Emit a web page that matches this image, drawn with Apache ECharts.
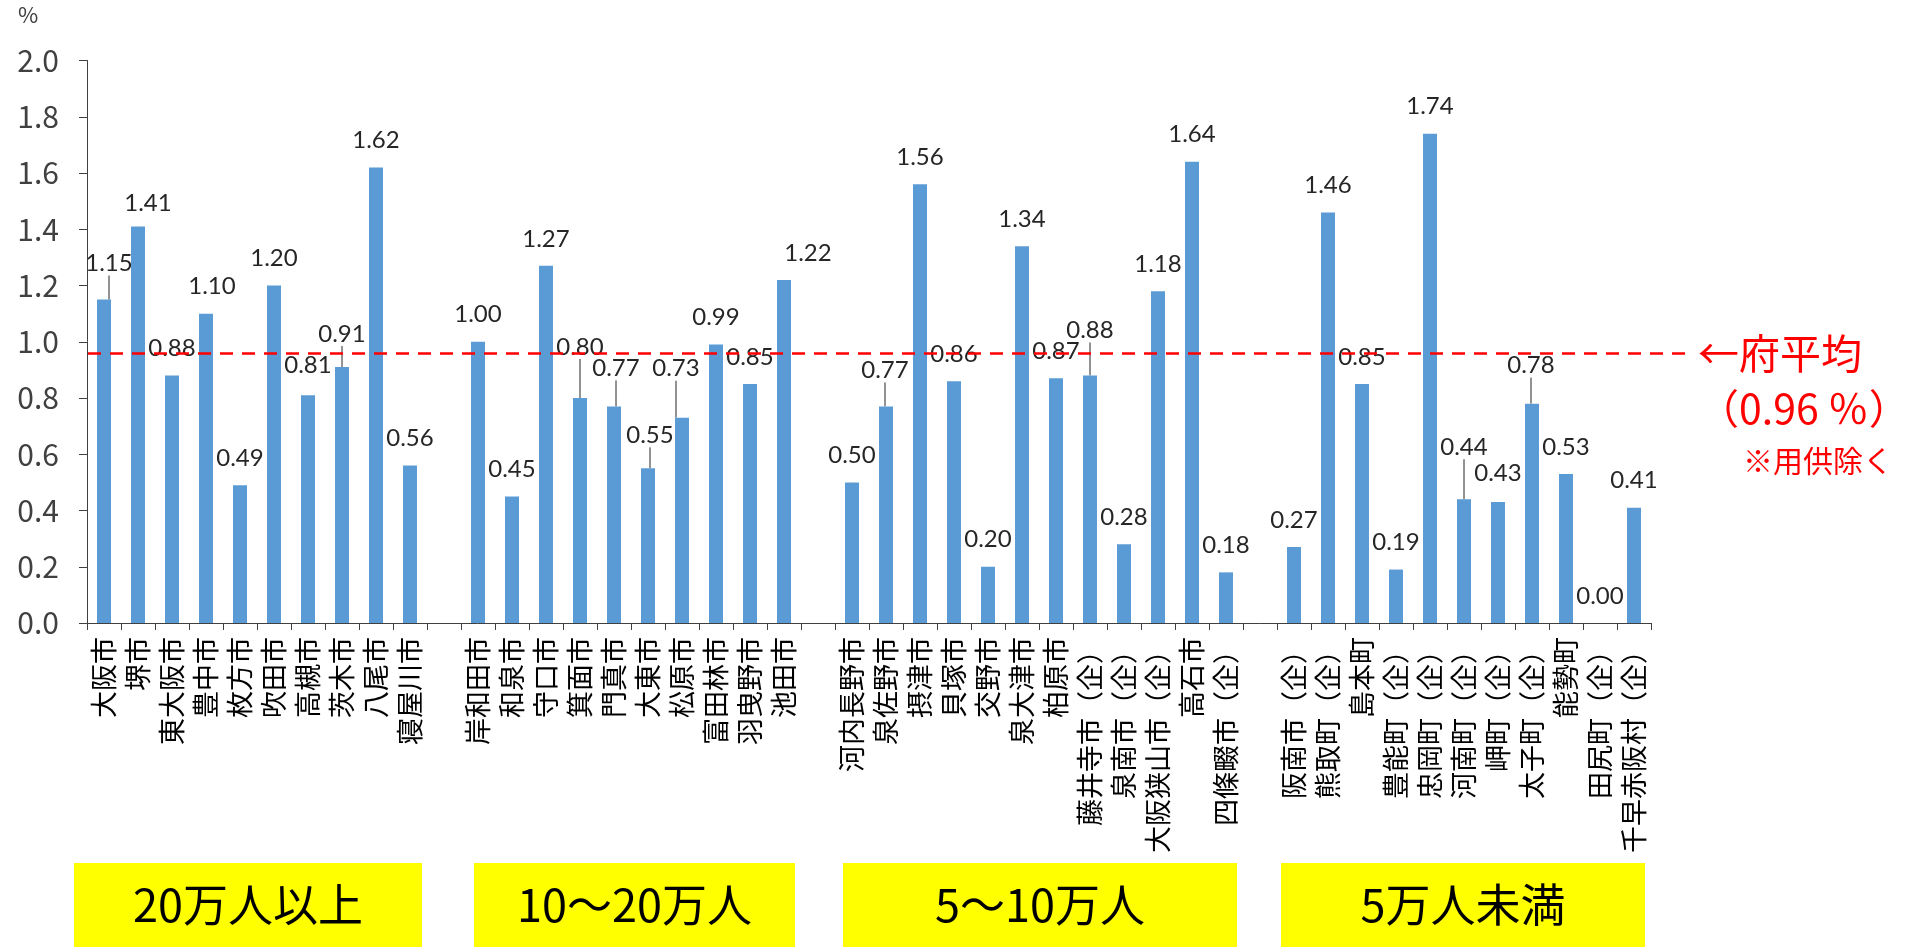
<!DOCTYPE html>
<html>
<head>
<meta charset="utf-8">
<script src="https://cdn.jsdelivr.net/npm/echarts@6/dist/echarts.min.js"></script>
<style>
  html, body { margin: 0; padding: 0; background: #fff; }
  #chart { width: 1911px; height: 952px; }
</style>
</head>
<body>
<div id="chart"></div>
<script>
// 人口規模別の団体ごとの比率（％）
const groupLabels = ['20万人以上', '10～20万人', '5～10万人', '5万人未満'];

const citiesOver200k = ['大阪市', '堺市', '東大阪市', '豊中市', '枚方市', '吹田市', '高槻市', '茨木市', '八尾市', '寝屋川市'];
const ratesOver200k = [1.15, 1.41, 0.88, 1.10, 0.49, 1.20, 0.81, 0.91, 1.62, 0.56];

const cities100kTo200k = ['岸和田市', '和泉市', '守口市', '箕面市', '門真市', '大東市', '松原市', '富田林市', '羽曳野市', '池田市'];
const rates100kTo200k = [1.00, 0.45, 1.27, 0.80, 0.77, 0.55, 0.73, 0.99, 0.85, 1.22];

const cities50kTo100k = ['河内長野市', '泉佐野市', '摂津市', '貝塚市', '交野市', '泉大津市', '柏原市', '藤井寺市（企）', '泉南市（企）', '大阪狭山市（企）', '高石市', '四條畷市（企）'];
const rates50kTo100k = [0.50, 0.77, 1.56, 0.86, 0.20, 1.34, 0.87, 0.88, 0.28, 1.18, 1.64, 0.18];

const citiesUnder50k = ['阪南市（企）', '熊取町（企）', '島本町', '豊能町（企）', '忠岡町（企）', '河南町（企）', '岬町（企）', '太子町（企）', '能勢町', '田尻町（企）', '千早赤阪村（企）'];
const ratesUnder50k = [0.27, 1.46, 0.85, 0.19, 1.74, 0.44, 0.43, 0.78, 0.53, 0.00, 0.41];

// 府平均（用供除く）
const prefAverage = 0.96;

// y軸目盛
const yAxisMin = 0;
const yAxisMax = 2.0;
const yAxisStep = 0.2;

// ---- layout / styling ----
// label nudges [dx, dy, leader line]
const labelNudge = {
  '大阪市': [5, -9, true],
  '堺市': [10, 4, false],
  '豊中市': [6, 0, false],
  '高槻市': [0, -3, false],
  '茨木市': [0, -6, true],
  '箕面市': [0, -24, true],
  '門真市': [2, -11, true],
  '大東市': [2, -6, true],
  '松原市': [-6, -22, true],
  '池田市': [24, 0, false],
  '泉佐野市': [-1, -9, true],
  '藤井寺市（企）': [0, -18, true],
  '河南町（企）': [0, -25, true],
  '岬町（企）': [0, -2, false],
  '太子町（企）': [-1, -11, true]
};

// yellow group boxes under the axis: [left, right]
const groupBoxes = [[74, 422], [474, 795], [843, 1237], [1281, 1645]];
const boxTop = 863, boxHeight = 84;

const JP = '"Noto Sans CJK JP", sans-serif';

// build the category axis with a blank slot between groups
const groups = [
  [citiesOver200k, ratesOver200k],
  [cities100kTo200k, rates100kTo200k],
  [cities50kTo100k, rates50kTo100k],
  [citiesUnder50k, ratesUnder50k]
];
const categories = [];
const values = [];
groups.forEach(([names, rates], g) => {
  if (g > 0) { categories.push(' '.repeat(g)); values.push('-'); }
  names.forEach((n, i) => { categories.push(n); values.push(rates[i]); });
});

const barData = values.map((v, i) => {
  const nudge = labelNudge[categories[i]];
  if (v !== '-' && nudge && nudge[2]) {
    return { value: v, labelLine: { show: true } };
  }
  return v;
});

const chart = echarts.init(document.getElementById('chart'), null, { renderer: 'canvas' });

chart.setOption({
  animation: false,
  backgroundColor: '#ffffff',
  grid: { left: 87, right: 260, top: 60.5, bottom: 329 },
  xAxis: {
    type: 'category',
    data: categories,
    axisLine: { lineStyle: { color: '#404040', width: 1 } },
    axisTick: { show: true, length: 7, lineStyle: { color: '#404040' } },
    axisLabel: {
      interval: 0,
      rotate: 90,
      margin: 14,
      fontFamily: JP,
      fontSize: 27,
      color: '#000000'
    }
  },
  yAxis: {
    type: 'value',
    min: yAxisMin,
    max: yAxisMax,
    interval: yAxisStep,
    axisLine: { show: true, lineStyle: { color: '#404040', width: 1 } },
    axisTick: { show: true, length: 8, lineStyle: { color: '#404040' } },
    splitLine: { show: false },
    axisLabel: {
      margin: 28,
      fontFamily: JP,
      fontSize: 30,
      color: '#404040',
      formatter: v => v.toFixed(1)
    }
  },
  series: [{
    type: 'bar',
    data: barData,
    barWidth: 14,
    itemStyle: { color: '#5B9BD5' },
    label: {
      show: true,
      position: 'top',
      distance: 7,
      padding: [0, 0, 8, 0],
      fontFamily: 'Lato, "Open Sans", sans-serif',
      fontSize: 24,
      color: '#262626',
      formatter: p => Number(p.value).toFixed(2)
    },
    labelLine: { show: false, lineStyle: { color: '#262626', width: 1 } },
    labelLayout: p => {
      const n = labelNudge[categories[p.dataIndex]];
      return n ? { dx: n[0], dy: n[1] } : {};
    },
    markLine: {
      silent: true,
      symbol: 'none',
      label: { show: false },
      lineStyle: { color: '#FF0000', width: 2.5, type: [13, 9] },
      data: [[{ x: 88, yAxis: prefAverage }, { x: 1688, yAxis: prefAverage }]]
    }
  }]
});

// annotations placed from the value scale
const avgY = chart.convertToPixel({ yAxisIndex: 0 }, prefAverage);

const graphics = [
  {
    type: 'text', x: 18, y: 4,
    style: { text: '%', fontSize: 22, fontFamily: JP, fill: '#404040' }
  },
  {
    type: 'text', x: 1698, y: avgY,
    style: { text: '←府平均', fontSize: 41, fontFamily: JP, fill: '#FF0000', verticalAlign: 'middle' }
  },
  {
    type: 'text', x: 1698, y: avgY + 55,
    style: { text: '（' + prefAverage.toFixed(2) + ' ％）', fontSize: 41, fontFamily: JP, fill: '#FF0000', verticalAlign: 'middle' }
  },
  {
    type: 'text', x: 1743, y: avgY + 108,
    style: { text: '※用供除く', fontSize: 30, fontFamily: JP, fill: '#FF0000', verticalAlign: 'middle' }
  }
];

groupBoxes.forEach(([l, r], i) => {
  graphics.push({
    type: 'rect',
    shape: { x: l, y: boxTop, width: r - l, height: boxHeight },
    style: { fill: '#FFFF00' }
  });
  graphics.push({
    type: 'text',
    x: (l + r) / 2, y: boxTop + boxHeight / 2,
    style: {
      text: groupLabels[i], fontSize: 45, fontFamily: JP, fill: '#000000',
      align: 'center', verticalAlign: 'middle'
    }
  });
});

chart.setOption({ graphic: graphics });
</script>
</body>
</html>
